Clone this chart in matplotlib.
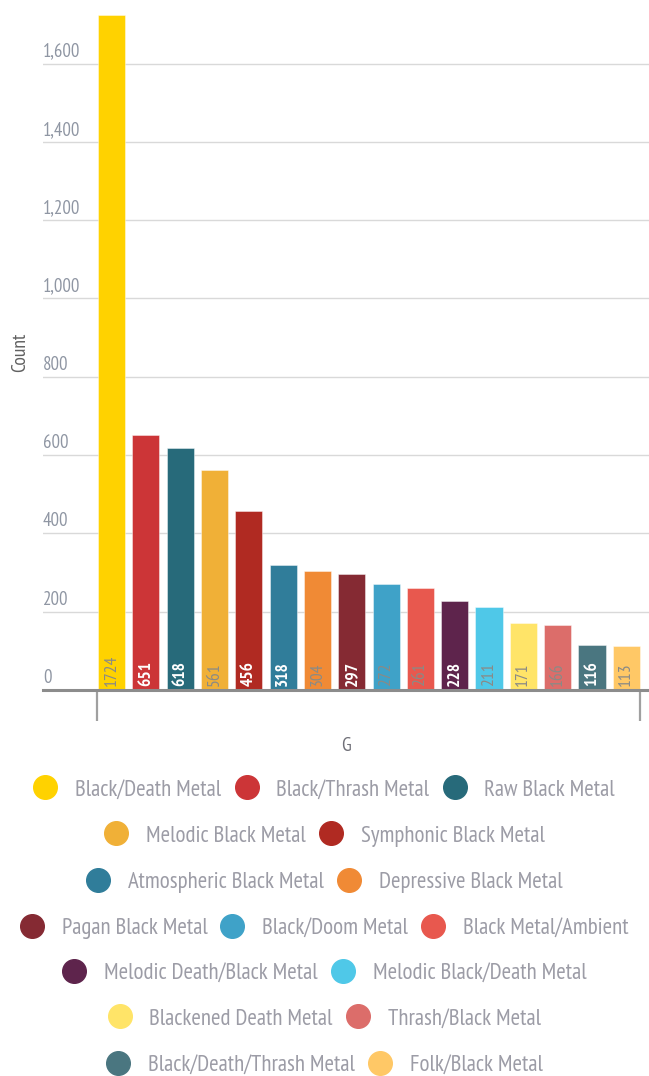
import matplotlib
matplotlib.use("Agg")
import matplotlib.pyplot as plt
from matplotlib.lines import Line2D
from matplotlib import font_manager
import matplotlib.transforms as mtransforms

names = {f.name for f in font_manager.fontManager.ttflist}
FONT = next((n for n in ["PT Sans Narrow", "Archivo Narrow", "Fira Sans Condensed",
                         "Barlow Semi Condensed", "Asap Condensed"] if n in names),
            "DejaVu Sans")
plt.rcParams["font.family"] = [FONT, "DejaVu Sans"]

genres = [
    "Black/Death Metal", "Black/Thrash Metal", "Raw Black Metal",
    "Melodic Black Metal", "Symphonic Black Metal", "Atmospheric Black Metal",
    "Depressive Black Metal", "Pagan Black Metal", "Black/Doom Metal",
    "Black Metal/Ambient", "Melodic Death/Black Metal", "Melodic Black/Death Metal",
    "Blackened Death Metal", "Thrash/Black Metal", "Black/Death/Thrash Metal",
    "Folk/Black Metal",
]
counts = [1724, 651, 618, 561, 456, 318, 304, 297, 272, 261, 228, 211, 171, 166, 116, 113]
colors = [
    "#FFD200", "#CC3537", "#276A7A", "#F0B037", "#B02A22", "#307D9A",
    "#F08A35", "#852A33", "#3FA2C8", "#E8584E", "#5E244C", "#4FC8E8",
    "#FFE468", "#DC6D6A", "#4A7680", "#FFC866",
]
label_on_dark = [False, True, True, False, True, True, False, True,
                 False, False, True, False, False, False, True, False]
y_ticks = [0, 200, 400, 600, 800, 1000, 1200, 1400, 1600]
group_label = "G"
legend_rows = [[0, 1, 2], [3, 4], [5, 6], [7, 8, 9], [10, 11], [12, 13], [14, 15]]

W, H = 649, 1076
fig = plt.figure(figsize=(W / 100, H / 100), dpi=100)
ax = fig.add_axes([43 / W, 1 - 690 / H, (649 - 43) / W, (690 - 15) / H])

xs = list(range(len(counts)))
ax.bar(xs, counts, width=0.79, color=colors, edgecolor=(1, 1, 1, 0.5),
       linewidth=0.6, zorder=2)
ax.set_xlim(-1.995, 15.66)
ax.set_ylim(0, 1724)

for y in y_ticks:
    if y > 0:
        ax.axhline(y, color="#d9d9d9", lw=1.0, zorder=1)
ax.axhline(0, color="#8c8c8c", lw=2.2, zorder=3, clip_on=False)

for sp in ax.spines.values():
    sp.set_visible(False)
ax.set_yticks([])
ax.set_xticks([-0.42, 15.39])
ax.set_xticklabels([])
ax.tick_params(axis="x", length=22, width=1.6, color="#a0a0a0", direction="out")

# y tick labels sit just above their grid lines
off = mtransforms.offset_copy(ax.get_yaxis_transform(), fig=fig, x=0, y=3, units="dots")
for y in y_ticks:
    ax.text(0.0, y, f"{y:,}", transform=off, ha="left", va="bottom",
            fontsize=13.5, color="#8f96a3")

ax.set_xlabel(group_label, fontsize=14, color="#707078", labelpad=8)
fig.text(20 / W, 1 - 352 / H, "Count", rotation=90, ha="center", va="center",
         fontsize=14, color="#606060")

# value labels inside the bars
boff = mtransforms.offset_copy(ax.transData, fig=fig, x=0, y=4, units="dots")
for x, v, dark in zip(xs, counts, label_on_dark):
    ax.text(x, 0, str(v), transform=boff, rotation=90, ha="center", va="bottom",
            fontsize=12.5, color="white" if dark else "#8a8a86",
            fontweight="bold" if dark else "normal", zorder=4)

row_y = [790, 836, 882, 928, 973, 1019, 1065]
for row, yp in zip(legend_rows, row_y):
    handles = [Line2D([], [], marker="o", linestyle="", markersize=17,
                      markerfacecolor=colors[i], markeredgecolor=colors[i])
               for i in row]
    labels = [genres[i] for i in row]
    fig.legend(handles, labels, loc="center", bbox_to_anchor=(0.5, 1 - yp / H),
               ncol=len(row), frameon=False, fontsize=16.5,
               handlelength=1.0, handletextpad=0.8, columnspacing=0.6,
               borderpad=0, labelcolor="#9c9ca6")

fig.savefig("out.png", dpi=100)
